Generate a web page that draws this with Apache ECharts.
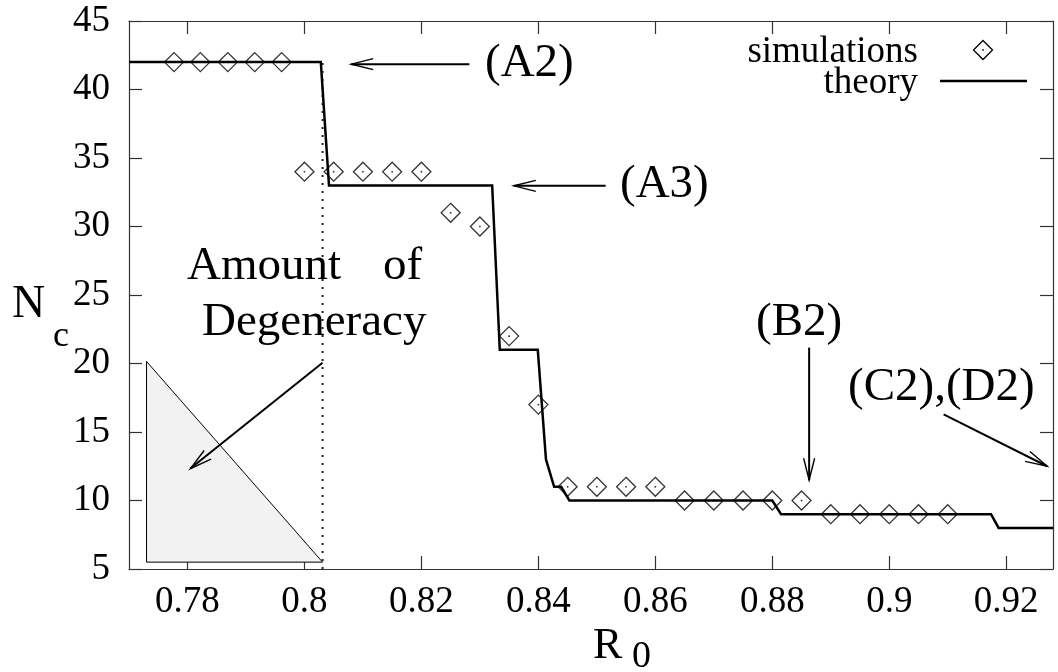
<!DOCTYPE html>
<html>
<head>
<meta charset="utf-8">
<script src="https://cdn.jsdelivr.net/npm/echarts@6/dist/echarts.min.js"></script>
<style>
html,body{margin:0;padding:0;background:#fff;}
#chart{width:1058px;height:672px;}
</style>
</head>
<body>
<div id="chart"></div>
<script>
// ---- data ----
const xTickValues = [0.78, 0.80, 0.82, 0.84, 0.86, 0.88, 0.90, 0.92];
const simX = [0.7777, 0.7822, 0.7869, 0.7915, 0.7961, 0.800, 0.805, 0.810, 0.815, 0.820, 0.825, 0.830, 0.835, 0.840,
              0.845, 0.850, 0.855, 0.860, 0.865, 0.870, 0.875, 0.880, 0.885, 0.890, 0.895, 0.900, 0.905, 0.910];
const simY = [42, 42, 42, 42, 42, 34, 34, 34, 34, 34, 31, 30, 22, 17,
              11, 11, 11, 11, 10, 10, 10, 10, 10, 9, 9, 9, 9, 9];
const theoryX = [0.770, 0.8028, 0.8042, 0.8321, 0.8334, 0.8399, 0.8413, 0.8427, 0.8439, 0.8453, 0.8800, 0.8815, 0.9174, 0.9187, 0.928];
const theoryY = [42, 42, 33, 33, 21, 21, 13, 11, 11, 10, 10, 9, 9, 8, 8];
const degenX = 0.8031;                       // dotted vertical line position
const degenLineY = [5, 42];
const degenTriangle = [[0.7730, 20.15], [0.7730, 5.5], [0.8031, 5.5]];
// arrows: [x1, y1, x2(tip), y2(tip)]
const arrows = [
  [0.8282, 41.85, 0.8080, 41.85],   // (A2)
  [0.8515, 32.97, 0.8358, 32.97],   // (A3)
  [0.8031, 20.05, 0.7805, 12.33],   // Amount of Degeneracy
  [0.8863, 21.16, 0.8863, 11.48],   // (B2)
  [0.9093, 16.28, 0.9270, 12.50]    // (C2),(D2)
];
const labels = ['(A2)', '(A3)', 'Amount', 'of', 'Degeneracy', '(B2)', '(C2),(D2)'];

// ---- build ----
const FONT = '"Liberation Serif", "Times New Roman", serif';
const simData = simX.map((x, i) => [x, simY[i]]);
const theoryData = theoryX.map((x, i) => [x, theoryY[i]]);

const chart = echarts.init(document.getElementById('chart'), null, {renderer: 'canvas'});

const axisLineStyle = {color: '#333', width: 1.2};
const xCommon = {
  type: 'value', min: 0.770, max: 0.928,
  splitLine: {show: false},
  axisLine: {show: true, onZero: false, lineStyle: axisLineStyle},
  axisTick: {show: true, inside: true, length: 13, lineStyle: axisLineStyle, customValues: xTickValues}
};
const yCommon = {
  type: 'value', min: 5, max: 45, interval: 5,
  splitLine: {show: false},
  axisLine: {show: true, onZero: false, lineStyle: axisLineStyle},
  axisTick: {show: true, inside: true, length: 13, lineStyle: axisLineStyle}
};

function txt(text, x, y, size, align) {
  return {type: 'text', x: x, y: y, z: 100,
    style: {text: text, font: size + 'px ' + FONT, fill: '#000', align: align || 'left', verticalAlign: 'middle'}};
}

const option = {
  animation: false,
  backgroundColor: '#fff',
  grid: {left: 129, right: 5, top: 21, bottom: 103},
  xAxis: [
    Object.assign({}, xCommon, {position: 'bottom',
      axisLabel: {show: true, customValues: xTickValues, margin: 15, fontSize: 37, fontFamily: FONT, color: '#000',
        formatter: v => String(+(+v).toFixed(2))}}),
    Object.assign({}, xCommon, {position: 'top', axisLabel: {show: false}})
  ],
  yAxis: [
    Object.assign({}, yCommon, {position: 'left',
      axisLabel: {show: true, margin: 19, fontSize: 37, fontFamily: FONT, color: '#000', padding: [8, 0, 0, 0]}}),
    Object.assign({}, yCommon, {position: 'right', axisLabel: {show: false}})
  ],
  series: [
    {
      type: 'custom', name: 'triangle', z: 1, silent: true,
      data: [[degenTriangle[0][0], degenTriangle[0][1]]],
      renderItem: function (params, api) {
        const pts = degenTriangle.map(p => api.coord(p));
        return {type: 'polygon', shape: {points: pts}, style: {fill: '#f2f2f2', stroke: '#000', lineWidth: 1}};
      }
    },
    {
      type: 'line', name: 'degeneracy', z: 2, silent: true, symbol: 'none',
      data: degenLineY.map(y => [degenX, y]),
      lineStyle: {color: '#222', width: 2, type: [2, 6]}
    },
    {
      type: 'line', name: 'theory', z: 3, symbol: 'none',
      data: theoryData,
      lineStyle: {color: '#000', width: 2.5, join: 'miter'}
    },
    {
      type: 'scatter', name: 'simulations', z: 4,
      data: simData, symbol: 'diamond', symbolSize: 19,
      itemStyle: {color: 'rgba(0,0,0,0)', borderColor: '#000', borderWidth: 1.3}
    },
    {
      type: 'scatter', name: 'simdot', z: 5, silent: true,
      data: simData, symbol: 'rect', symbolSize: 1.6,
      itemStyle: {color: '#000'}
    },
    {
      type: 'custom', name: 'arrows', z: 6, silent: true,
      data: arrows,
      encode: {x: [0, 2], y: [1, 3]},
      renderItem: function (params, api) {
        const p1 = api.coord([api.value(0), api.value(1)]);
        const p2 = api.coord([api.value(2), api.value(3)]);
        const dx = p2[0] - p1[0], dy = p2[1] - p1[1];
        const len = Math.hypot(dx, dy), ux = dx / len, uy = dy / len;
        const L = 22, W = 5.5;
        const bx = p2[0] - ux * L, by = p2[1] - uy * L;
        const h1 = [bx - uy * W, by + ux * W], h2 = [bx + uy * W, by - ux * W];
        return {type: 'group', children: [
          {type: 'line', shape: {x1: p1[0], y1: p1[1], x2: p2[0], y2: p2[1]}, style: {stroke: '#000', lineWidth: 2}},
          {type: 'polyline', shape: {points: [h1, p2, h2]}, style: {stroke: '#000', fill: null, lineWidth: 1.4}}
        ]};
      }
    }
  ],
  graphic: [
    txt(labels[0], 485, 63.5, 47),
    txt(labels[1], 620, 185, 47),
    txt(labels[2], 187, 267, 47),
    txt(labels[3], 383, 267, 47),
    txt(labels[4], 202, 323, 47),
    txt(labels[5], 756, 322.5, 47),
    txt(labels[6], 848, 388, 47),
    // legend
    txt('simulations', 918, 52, 37, 'right'),
    txt('theory', 918, 83, 37, 'right'),
    {type: 'polygon', z: 100, shape: {points: [[983, 40.5], [992.5, 50], [983, 59.5], [973.5, 50]]},
      style: {fill: null, stroke: '#000', lineWidth: 1.3}},
    {type: 'rect', z: 100, shape: {x: 982.2, y: 49.2, width: 1.6, height: 1.6}, style: {fill: '#000'}},
    {type: 'line', z: 100, shape: {x1: 940, y1: 81, x2: 1027, y2: 81}, style: {stroke: '#000', lineWidth: 2.5}},
    // axis titles
    txt('N', 12, 305, 46),
    txt('c', 53, 337, 36),
    txt('R', 593, 646, 44),
    txt('0', 632, 657, 38)
  ]
};
chart.setOption(option);
</script>
</body>
</html>
